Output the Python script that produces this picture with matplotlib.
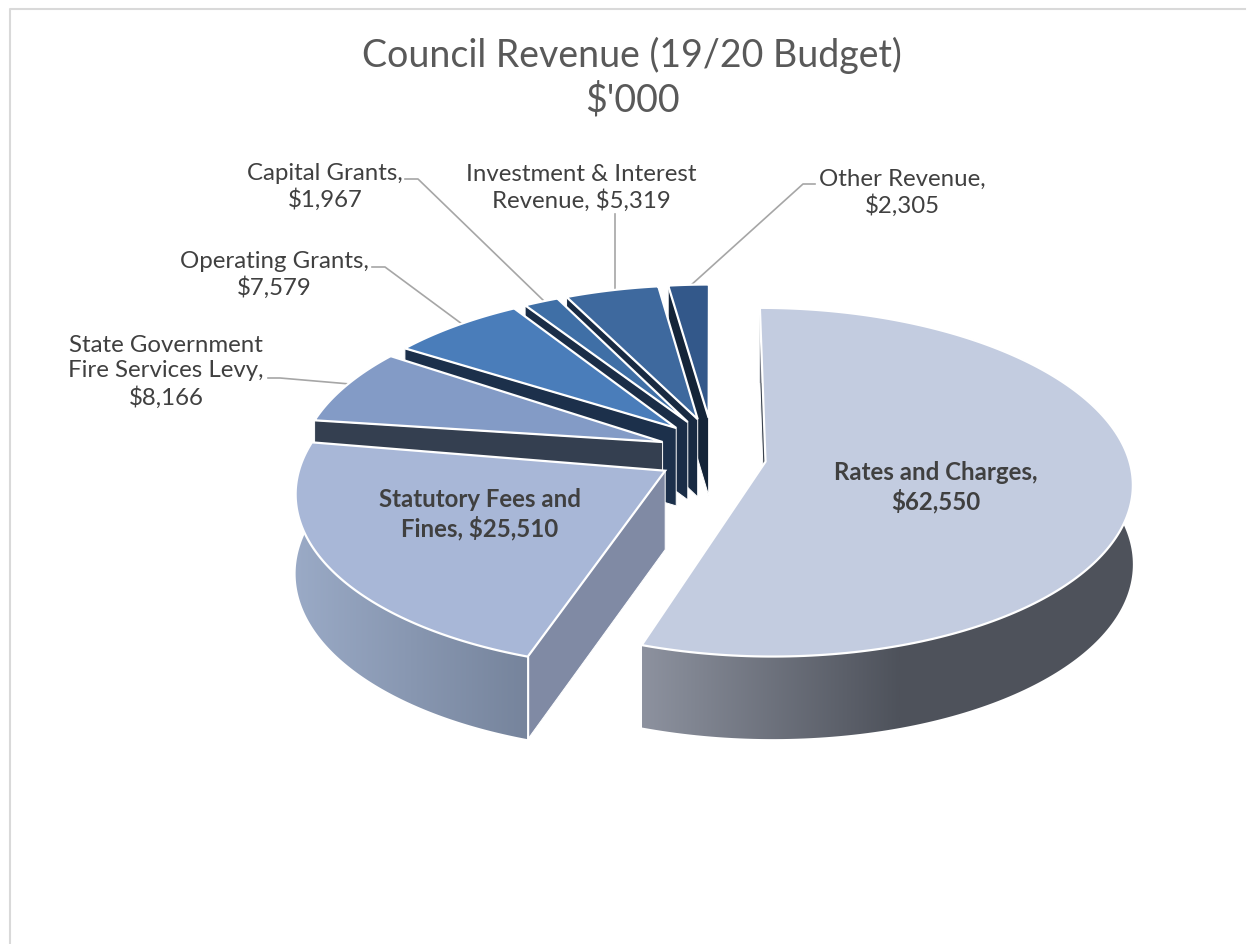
import numpy as np
import matplotlib
matplotlib.use("Agg")
import matplotlib.pyplot as plt
from matplotlib.colors import LinearSegmentedColormap
from matplotlib.patches import Polygon

# data, clockwise from 12 o'clock
categories = ["Rates and Charges", "Statutory Fees and Fines", "State Government Fire Services Levy",
              "Operating Grants", "Capital Grants", "Investment & Interest Revenue", "Other Revenue"]
values = [62550, 25510, 8166, 7579, 1967, 5319, 2305]
label_text = ["Rates and Charges,\n$62,550", "Statutory Fees and\nFines, $25,510",
              "State Government\nFire Services Levy,\n$8,166", "Operating Grants,\n$7,579",
              "Capital Grants,\n$1,967", "Investment & Interest\nRevenue, $5,319", "Other Revenue,\n$2,305"]
top_colors = ["#c3cce0", "#a8b7d7", "#839bc6", "#4a7dba", "#3f6fa6", "#3e699e", "#33588a"]
wall_colors = ["#3c4450", "#808aa4", "#343f50", "#1c304b", "#1a2d47", "#182a42", "#142438"]
label_xy = [(936, 487), (480, 514), (166, 372), (274, 275), (325, 187), (581, 188), (902, 193)]
bold = [True, True, False, False, False, False, False]

# perspective of the pie, in image pixels
cx, cy = 712, 458.5
f, g, d = 3085, 1453, 8.5
depth_k, depth_d = 1650, 21
explode = 0.149
apex_lift = 0.09


def project(X, Y, Z=0.0):
    w = d + Y
    return cx + f * X / w, cy - g * Y / w - depth_k * Z / (depth_d + Y)


def gradient_wall(ax, pts, x0, x1, c0, c1, z):
    cmap = LinearSegmentedColormap.from_list("w", [c0, c1])
    im = ax.imshow(np.linspace(0, 1, 256)[None, :], cmap=cmap, aspect="auto",
                   extent=(x0, x1, 945, 0), zorder=z)
    p = Polygon(pts, closed=True, transform=ax.transData, fc="none", ec="none")
    ax.add_patch(p)
    im.set_clip_path(p)


fig = plt.figure(figsize=(12.53, 9.45), dpi=100)
ax = fig.add_axes([0, 0, 1, 1])
plt.rcParams["font.family"] = ["Lato", "DejaVu Sans"]

angles = np.concatenate([[0], np.cumsum(values) / np.sum(values) * 2 * np.pi])

# far slices first
for i in range(len(values) - 1, -1, -1):
    a0, a1 = angles[i], angles[i + 1]
    mid = (a0 + a1) / 2
    ox, oy = explode * np.sin(mid), explode * np.cos(mid)
    t = np.linspace(a0, a1, 200)
    X = ox + np.sin(t)
    Y = oy + np.cos(t)
    tx, ty = project(X, Y)
    bx, by = project(X, Y, -1)
    # the tips of the far slices sit a little further back
    tip_y = oy + apex_lift * max(np.cos(mid), 0)
    ax0, ay0 = project(ox, tip_y)
    ax1, ay1 = project(ox, tip_y, -1)
    z = 10 + (len(values) - i) * 3

    # only the wall at the start angle faces the viewer
    ax.add_patch(Polygon([(tx[0], ty[0]), (ax0, ay0), (ax1, ay1), (bx[0], by[0])], fc=wall_colors[i],
                         ec="white", lw=0.7, zorder=z))
    # outer wall
    wall = np.vstack([np.column_stack([tx, ty]), np.column_stack([bx, by])[::-1]])
    if i == 0:
        gradient_wall(ax, wall, 642, 900, "#8d929f", "#4e525b", z + 1)
        ax.imshow(np.zeros((1, 1)), cmap=LinearSegmentedColormap.from_list("k", ["#4e525b", "#4e525b"]),
                  aspect="auto", extent=(900, 1140, 945, 0), zorder=z + 0.9,
                  clip_path=Polygon(wall, transform=ax.transData))
    elif i == 1:
        gradient_wall(ax, wall, 295, 527, "#9aaac6", "#76849c", z + 1)
        ax.plot([tx[0], bx[0]], [ty[0], by[0]], color="white", lw=1.0, zorder=z + 1.5)
    # top face
    ax.add_patch(Polygon(np.vstack([[ax0, ay0], np.column_stack([tx, ty])]), closed=True, fc=top_colors[i],
                         ec="white", lw=1.6, joinstyle="miter", zorder=z + 2))

ax.set_xlim(0, 1253)
ax.set_ylim(945, 0)
ax.axis("off")

# chart frame
ax.plot([10, 10, 1245], [945, 10, 10], color="#d9d9d9", lw=1.5, zorder=1)

# leader lines
leaders = [([268, 280, 350], [379, 379, 385]), ([372, 385, 462], [268, 268, 325]),
           ([405, 418, 545], [180, 180, 303]), ([615, 615], [215, 292]), ([815, 803, 690], [185, 185, 287])]
for lx, ly in leaders:
    ax.plot(lx, ly, color="#a6a6a6", lw=1.2, zorder=5)

for txt, (x, y), b in zip(label_text, label_xy, bold):
    ax.text(x, y, txt, ha="center", va="center", fontsize=17.3, color="#404040", linespacing=1.24,
            fontweight="bold" if b else "normal", zorder=60)

ax.text(632, 55, "Council Revenue (19/20 Budget)", ha="center", va="center", fontsize=27, color="#595959", zorder=60)
ax.text(632, 100, "$'000", ha="center", va="center", fontsize=27, color="#595959", zorder=60)

fig.savefig("out.png", dpi=100, facecolor="white")
